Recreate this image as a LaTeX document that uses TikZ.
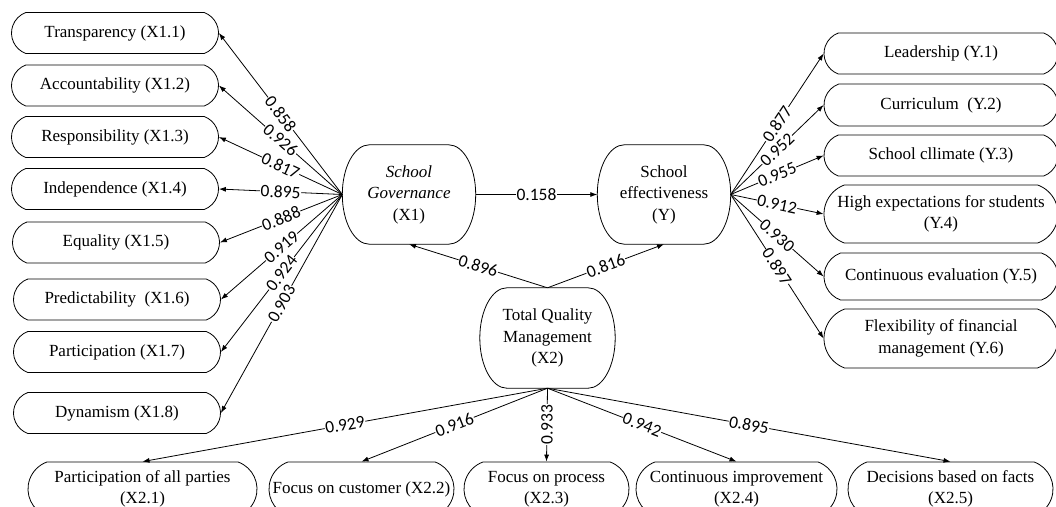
\documentclass[tikz,border=0pt]{standalone}
\usepackage{fontspec}
\setmainfont{Liberation Serif}
\newfontfamily\labfont{Carlito}
\usetikzlibrary{shapes.misc,arrows.meta}
% outline with elliptical sides for the latent-variable nodes
\newcommand\ellbox[1]{%
  \draw[line width=0.8pt]
    ([xshift=27pt]#1.north west) -- ([xshift=-27pt]#1.north east)
    .. controls ([xshift=-12.1pt]#1.north east) and ([yshift=27.5pt]#1.east) .. (#1.east)
    .. controls ([yshift=-27.5pt]#1.east) and ([xshift=-12.1pt]#1.south east) .. ([xshift=-27pt]#1.south east)
    -- ([xshift=27pt]#1.south west)
    .. controls ([xshift=12.1pt]#1.south west) and ([yshift=-27.5pt]#1.west) .. (#1.west)
    .. controls ([yshift=27.5pt]#1.west) and ([xshift=12.1pt]#1.north west) .. ([xshift=27pt]#1.north west)
    -- cycle;}
\begin{document}
\begin{tikzpicture}[x=1pt,y=-1pt,
  box/.style={draw, rounded rectangle, rounded rectangle arc length=140, inner sep=1pt, align=center,
    font=\fontsize{17}{21.5}\selectfont, line width=0.8pt},
  lbox/.style={box, minimum width=209pt, minimum height=41pt},
  rbox/.style={box, minimum width=236pt},
  bbox/.style={box, minimum height=54pt},
  big/.style={rectangle, inner sep=1pt, align=center,
    font=\fontsize{17}{21.5}\selectfont, minimum width=133pt, minimum height=99pt},
  arr/.style={-{Latex[length=7pt,width=5pt]}, line width=0.8pt},
  lab/.style={fill=white, inner sep=0.6pt, sloped, font=\labfont\fontsize{17.5}{19}\selectfont},
  labv/.style={fill=white, inner sep=0.6pt, rotate=90, font=\labfont\fontsize{17.5}{19}\selectfont}]
\useasboundingbox (0,0) rectangle (1056,506);
\clip (0,0) rectangle (1056,506);

% left indicators
\node[lbox] (l1) at (115,33) {Transparency (X1.1)};
\node[lbox] (l2) at (115,85.5) {Accountability (X1.2)};
\node[lbox] (l3) at (115,137) {Responsibility (X1.3)};
\node[lbox] (l4) at (115,189) {Independence (X1.4)};
\node[lbox] (l5) at (116,242.5) {Equality (X1.5)};
\node[lbox] (l6) at (117,299.5) {Predictability \ (X1.6)};
\node[lbox] (l7) at (117,352) {Participation (X1.7)};
\node[lbox] (l8) at (117,413) {Dynamism (X1.8)};

% latent variables
\node[big] (sg) at (409,194.5) {{\itshape School}\\{\itshape Governance}\\(X1)};
\node[big] (se) at (664,194.5) {School\\effectiveness\\(Y)};
\node[big, minimum width=135pt, minimum height=100pt] (tqm) at (547.5,338) {Total Quality\\Management\\(X2)};
\ellbox{sg}
\ellbox{se}
\ellbox{tqm}

% right indicators
\node[rbox, minimum height=41pt] (r1) at (941,53.5) {Leadership (Y.1)};
\node[rbox, minimum height=42pt] (r2) at (941,105) {Curriculum \ (Y.2)};
\node[rbox, minimum height=41pt] (r3) at (941,155.5) {School cllimate (Y.3)};
\node[rbox, minimum height=58pt] (r4) at (941,214) {High expectations for students\\(Y.4)};
\node[rbox, minimum height=47pt] (r5) at (941,276.5) {Continuous evaluation (Y.5)};
\node[rbox, minimum height=59pt] (r6) at (941,338.5) {Flexibility of financial\\management (Y.6)};

% bottom indicators
\node[bbox, minimum width=231pt] (b1) at (142.5,489) {Participation of all parties\\(X2.1)};
\node[bbox, minimum width=187pt] (b2) at (361.5,489) {Focus on customer (X2.2)};
\node[bbox, minimum width=167pt] (b3) at (546.5,489) {Focus on process\\(X2.3)};
\node[bbox, minimum width=203pt] (b4) at (736.5,489) {Continuous improvement\\(X2.4)};
\node[bbox, minimum width=207pt] (b5) at (950.5,489) {Decisions based on facts\\(X2.5)};

% paths
\draw[arr] (sg.west) -- node[lab]{0.858} (l1.east);
\draw[arr] (sg.west) -- node[lab]{0.926} (l2.east);
\draw[arr] (sg.west) -- node[lab]{0.817} (l3.east);
\draw[arr] (sg.west) -- node[lab]{0.895} (l4.east);
\draw[arr] (sg.west) -- node[lab]{0.888} (l5.east);
\draw[arr] (sg.west) -- node[lab]{0.919} (l6.east);
\draw[arr] (sg.west) -- node[lab]{0.924} (l7.east);
\draw[arr] (sg.west) -- node[lab]{0.903} (l8.east);

\draw[arr] (sg.east) -- node[lab]{0.158} (se.west);
\draw[arr] (tqm.north) -- node[lab]{0.896} (sg.south);
\draw[arr] (tqm.north) -- node[lab]{0.816} (se.south);

\draw[arr] (se.east) -- node[lab]{0.877} (r1.west);
\draw[arr] (se.east) -- node[lab]{0.952} (r2.west);
\draw[arr] (se.east) -- node[lab]{0.955} (r3.west);
\draw[arr] (se.east) -- node[lab]{0.912} (r4.west);
\draw[arr] (se.east) -- node[lab]{0.930} (r5.west);
\draw[arr] (se.east) -- node[lab]{0.897} (r6.west);

\draw[arr] (tqm.south) -- node[lab]{0.929} (b1.north);
\draw[arr] (tqm.south) -- node[lab]{0.916} (b2.north);
\draw[arr] (tqm.south) -- node[labv]{0.933} (b3.north);
\draw[arr] (tqm.south) -- node[lab]{0.942} (b4.north);
\draw[arr] (tqm.south) -- node[lab]{0.895} (b5.north);
\end{tikzpicture}
\end{document}
